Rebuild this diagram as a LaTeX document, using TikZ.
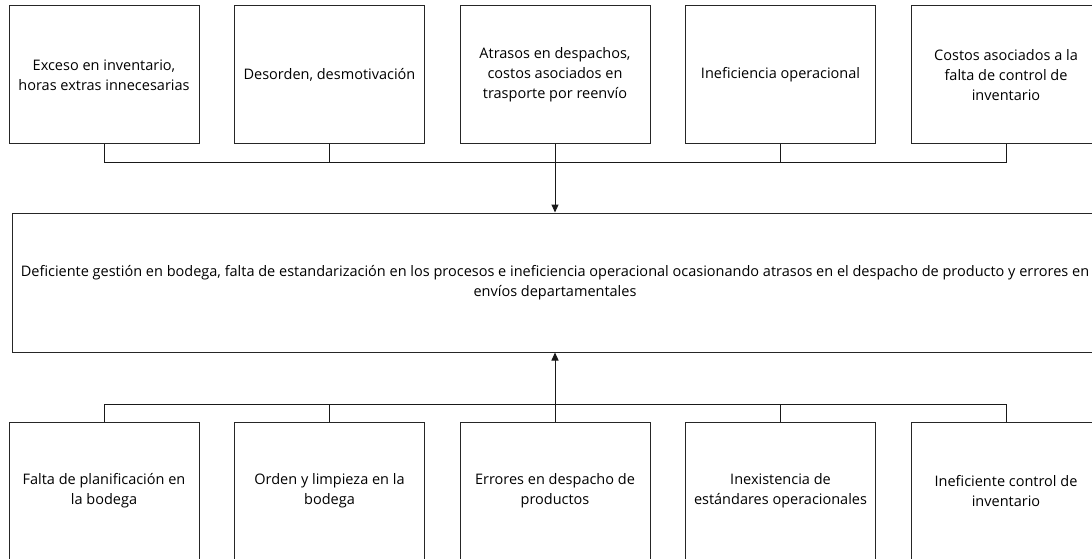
\documentclass[tikz,border=0pt]{standalone}
\usepackage{fontspec}
\setmainfont{Open Sans}
\usepackage{tikz}
\usetikzlibrary{positioning,arrows.meta,calc}

\begin{document}
\begin{tikzpicture}[
  x=1pt, y=1pt,
  node distance=68pt and 34.5pt,
  caja/.style={draw=black!85, line width=1pt, align=center, minimum width=190pt, minimum height=138pt, inner sep=2pt, font=\fontsize{14.5pt}{19.8pt}\selectfont},
  linea/.style={draw=black!90, line width=1pt},
  flecha/.style={linea, -{Triangle[length=8pt,width=7pt]}}
]
  \path[use as bounding box, fill=white] (0,0) rectangle (1092,558);
  \clip (0,0) rectangle (1092,558);

  % efectos
  \node[caja] (efecto1) at (104,483) {Exceso en inventario,\\horas extras innecesarias};
  \node[caja, right=of efecto1] (efecto2) {Desorden, desmotivación};
  \node[caja, right=of efecto2] (efecto3) {Atrasos en despachos,\\costos asociados en\\trasporte por reenvío};
  \node[caja, right=of efecto3] (efecto4) {Ineficiencia operacional};
  \node[caja, right=of efecto4] (efecto5) {Costos asociados a la\\falta de control de\\inventario};

  % problema central
  \node[caja, below=of efecto3, minimum width=1086pt, minimum height=139pt] (problema) {Deficiente gestión en bodega, falta de estandarización en los procesos e ineficiencia operacional ocasionando atrasos en el despacho de producto y errores en\\envíos departamentales};

  % causas
  \node[caja, below=69pt of problema] (causa3) {Errores en despacho de\\productos};
  \node[caja, left=of causa3] (causa2) {Orden y limpieza en la\\bodega};
  \node[caja, left=of causa2] (causa1) {Falta de planificación en\\la bodega};
  \node[caja, right=of causa3] (causa4) {Inexistencia de\\estándares operacionales};
  \node[caja, right=of causa4] (causa5) {Ineficiente control de\\inventario};

  \coordinate[below=18pt of efecto3] (busarriba);
  \coordinate[above=17pt of causa3] (busabajo);

  \draw[linea] (efecto1.south) |- (busarriba) -| (efecto5.south);
  \draw[linea] (efecto2.south) -- (efecto2.south |- busarriba);
  \draw[linea] (efecto4.south) -- (efecto4.south |- busarriba);
  \draw[flecha] (efecto3.south) -- (problema.north);

  \draw[linea] (causa1.north) |- (busabajo) -| (causa5.north);
  \draw[linea] (causa2.north) -- (causa2.north |- busabajo);
  \draw[linea] (causa4.north) -- (causa4.north |- busabajo);
  \draw[flecha] (causa3.north) -- (problema.south);
\end{tikzpicture}
\end{document}
